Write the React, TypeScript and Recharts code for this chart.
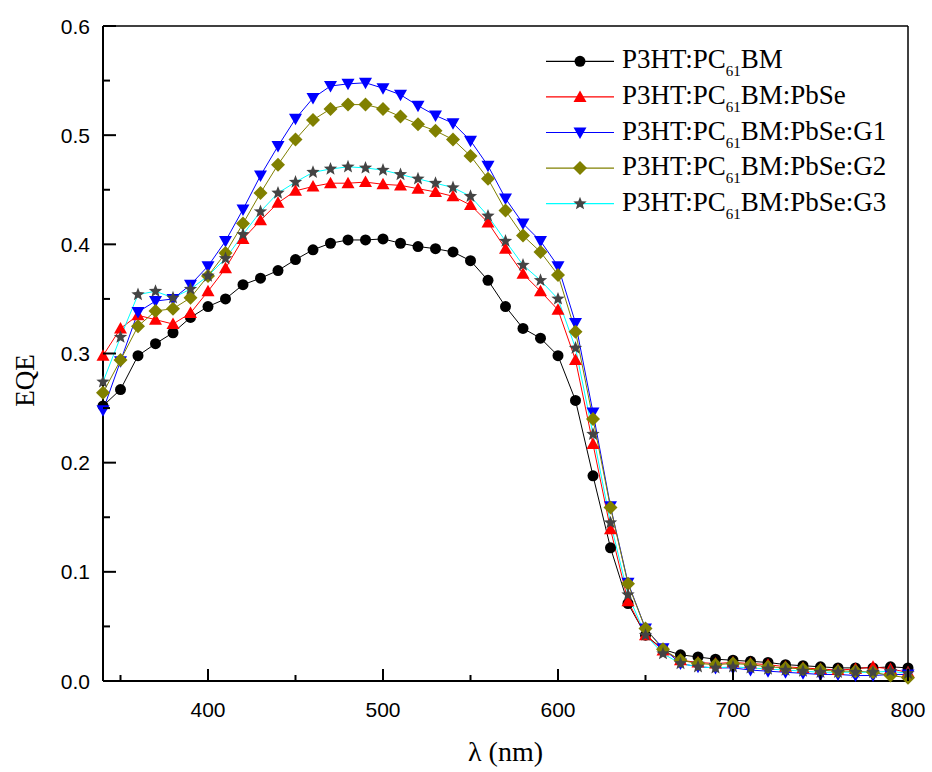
import React from "react";
import { LineChart, Line, XAxis, YAxis, Legend, ReferenceLine } from "recharts";

document.body.style.margin = "0";

const SERIF = "'Liberation Serif', 'Times New Roman', serif";
const SANS = "'Liberation Sans', Arial, sans-serif";

const wavelengths = [
  340, 350, 360, 370, 380, 390, 400, 410, 420, 430, 440, 450, 460, 470, 480, 490,
  500, 510, 520, 530, 540, 550, 560, 570, 580, 590, 600, 610, 620, 630, 640, 650,
  660, 670, 680, 690, 700, 710, 720, 730, 740, 750, 760, 770, 780, 790, 800,
];

const eqeBase = [
  0.252, 0.267, 0.298, 0.309, 0.319, 0.333, 0.343, 0.35, 0.363, 0.369, 0.376, 0.386, 0.395, 0.401, 0.404, 0.404,
  0.405, 0.401, 0.398, 0.396, 0.393, 0.385, 0.367, 0.343, 0.323, 0.314, 0.298, 0.257, 0.188, 0.122, 0.071, 0.042,
  0.029, 0.024, 0.022, 0.02, 0.019, 0.018, 0.017, 0.015, 0.014, 0.013, 0.012, 0.012, 0.012, 0.013, 0.012,
];
const eqePbSe = [
  0.298, 0.323, 0.335, 0.331, 0.327, 0.337, 0.357, 0.378, 0.405, 0.422, 0.438, 0.449, 0.453, 0.456, 0.456, 0.457,
  0.455, 0.454, 0.451, 0.448, 0.444, 0.436, 0.42, 0.396, 0.373, 0.357, 0.34, 0.294, 0.217, 0.139, 0.073, 0.042,
  0.028, 0.019, 0.017, 0.016, 0.017, 0.016, 0.015, 0.013, 0.012, 0.011, 0.01, 0.011, 0.013, 0.011, 0.008,
];
const eqeG1 = [
  0.248, 0.293, 0.338, 0.348, 0.35, 0.363, 0.38, 0.403, 0.432, 0.463, 0.49, 0.515, 0.534, 0.545, 0.547, 0.548,
  0.543, 0.537, 0.527, 0.518, 0.511, 0.495, 0.472, 0.442, 0.419, 0.403, 0.38, 0.328, 0.246, 0.16, 0.09, 0.048,
  0.03, 0.016, 0.013, 0.012, 0.012, 0.01, 0.009, 0.008, 0.007, 0.006, 0.006, 0.005, 0.005, 0.006, 0.006,
];
const eqeG2 = [
  0.264, 0.294, 0.325, 0.339, 0.341, 0.351, 0.371, 0.392, 0.419, 0.447, 0.473, 0.496, 0.514, 0.524, 0.528, 0.528,
  0.524, 0.517, 0.51, 0.504, 0.496, 0.481, 0.46, 0.431, 0.408, 0.393, 0.372, 0.32, 0.24, 0.159, 0.089, 0.048,
  0.029, 0.019, 0.016, 0.015, 0.016, 0.015, 0.013, 0.012, 0.011, 0.01, 0.009, 0.009, 0.008, 0.005, 0.003,
];
const eqeG3 = [
  0.274, 0.315, 0.354, 0.357, 0.351, 0.359, 0.371, 0.387, 0.409, 0.43, 0.447, 0.457, 0.466, 0.469, 0.471, 0.47,
  0.468, 0.464, 0.46, 0.456, 0.452, 0.444, 0.426, 0.403, 0.381, 0.367, 0.35, 0.305, 0.226, 0.145, 0.079, 0.042,
  0.025, 0.016, 0.013, 0.012, 0.013, 0.012, 0.011, 0.01, 0.009, 0.008, 0.008, 0.008, 0.008, 0.009, 0.007,
];

const xTicks = [350, 400, 450, 500, 550, 600, 650, 700, 750, 800];
const yTicks = [0, 0.05, 0.1, 0.15, 0.2, 0.25, 0.3, 0.35, 0.4, 0.45, 0.5, 0.55, 0.6];

const data = wavelengths.map((w, i) => ({
  w,
  base: eqeBase[i],
  pbse: eqePbSe[i],
  g1: eqeG1[i],
  g2: eqeG2[i],
  g3: eqeG3[i],
}));

type Shape = "circle" | "up" | "down" | "diamond" | "star";

const series: { key: string; name: string; suffix: string; line: string; fill: string; shape: Shape }[] = [
  { key: "base", name: "P3HT:PC", suffix: "BM", line: "#000000", fill: "#000000", shape: "circle" },
  { key: "pbse", name: "P3HT:PC", suffix: "BM:PbSe", line: "#ff0000", fill: "#ff0000", shape: "up" },
  { key: "g1", name: "P3HT:PC", suffix: "BM:PbSe:G1", line: "#0000ff", fill: "#0000ff", shape: "down" },
  { key: "g2", name: "P3HT:PC", suffix: "BM:PbSe:G2", line: "#808000", fill: "#808000", shape: "diamond" },
  { key: "g3", name: "P3HT:PC", suffix: "BM:PbSe:G3", line: "#00ffff", fill: "#444444", shape: "star" },
];

function Marker({ shape, cx, cy, fill }: { shape: Shape; cx: number; cy: number; fill: string }) {
  if (cx == null || cy == null) return null;
  if (shape === "circle") return <circle cx={cx} cy={cy} r={5.5} fill={fill} />;
  if (shape === "up")
    return <polygon points={`${cx},${cy - 6.5} ${cx + 6.5},${cy + 5} ${cx - 6.5},${cy + 5}`} fill={fill} />;
  if (shape === "down")
    return <polygon points={`${cx},${cy + 6.5} ${cx + 6.5},${cy - 5} ${cx - 6.5},${cy - 5}`} fill={fill} />;
  if (shape === "diamond")
    return <polygon points={`${cx},${cy - 7} ${cx + 7},${cy} ${cx},${cy + 7} ${cx - 7},${cy}`} fill={fill} />;
  const pts: string[] = [];
  for (let k = 0; k < 10; k++) {
    const r = k % 2 === 0 ? 7 : 3;
    const a = -Math.PI / 2 + (k * Math.PI) / 5;
    pts.push(`${cx + r * Math.cos(a)},${cy + r * Math.sin(a)}`);
  }
  return <polygon points={pts.join(" ")} fill={fill} />;
}

const XTick = ({ x, y, payload }: any) => {
  const v = payload.value;
  const major = v % 100 === 0;
  return (
    <g>
      <line x1={x} x2={x} y1={y} y2={y - (major ? 12 : 6)} stroke="#000" strokeWidth={2} />
      {major && (
        <text x={x} y={y + 36} textAnchor="middle" style={{ fontFamily: SANS, fontSize: 21 }} fill="#000">
          {v}
        </text>
      )}
    </g>
  );
};

const YTick = ({ x, y, payload }: any) => {
  const v = payload.value;
  const major = Math.round(v * 100) % 10 === 0;
  return (
    <g>
      <line x1={x} x2={x + (major ? 13 : 7)} y1={y} y2={y} stroke="#000" strokeWidth={2} />
      {major && (
        <text x={x - 13} y={y + 7.5} textAnchor="end" style={{ fontFamily: SANS, fontSize: 21 }} fill="#000">
          {v.toFixed(1)}
        </text>
      )}
    </g>
  );
};

const LegendBox = () => (
  <svg width={380} height={200} style={{ display: "block" }}>
    {series.map((s, i) => {
      const base = 24.3 + i * 35.6;
      const cy = base - 7;
      return (
        <g key={s.key}>
          <line x1={6} x2={74} y1={cy} y2={cy} stroke={s.line} strokeWidth={1.2} />
          <Marker shape={s.shape} cx={40} cy={cy} fill={s.fill} />
          <text x={82} y={base} style={{ fontFamily: SERIF, fontSize: 27 }} fill="#000">
            {s.name}
            <tspan style={{ fontSize: 15 }} dy={8}>61</tspan>
            <tspan dy={-8}>{s.suffix}</tspan>
          </text>
        </g>
      );
    })}
  </svg>
);

export default function App() {
  return (
    <div style={{ width: 932, height: 772, background: "#fff" }}>
      <LineChart width={932} height={772} data={data} margin={{ top: 26, right: 24, left: 0, bottom: 31 }}>
        <XAxis
          dataKey="w"
          type="number"
          domain={[340, 800]}
          ticks={xTicks}
          interval={0}
          tickSize={0}
          tickMargin={0}
          tickLine={false}
          height={60}
          axisLine={{ stroke: "#000", strokeWidth: 2 }}
          tick={<XTick />}
          label={{
            content: ({ viewBox }: any) => (
              <text
                x={viewBox.x + viewBox.width / 2}
                y={viewBox.y + 80}
                textAnchor="middle"
                style={{ fontFamily: SERIF, fontSize: 28 }}
                fill="#000"
              >
                λ (nm)
              </text>
            ),
          }}
        />
        <YAxis
          type="number"
          domain={[0, 0.6]}
          ticks={yTicks}
          interval={0}
          width={103}
          tickSize={0}
          tickMargin={0}
          tickLine={false}
          axisLine={{ stroke: "#000", strokeWidth: 2 }}
          tick={<YTick />}
          label={{
            content: ({ viewBox }: any) => {
              const cx = 25;
              const cy = viewBox.y + viewBox.height / 2 + 27;
              return (
                <text
                  x={cx}
                  y={cy}
                  transform={`rotate(-90 ${cx} ${cy})`}
                  textAnchor="middle"
                  dominantBaseline="central"
                  style={{ fontFamily: SERIF, fontSize: 27 }}
                  fill="#000"
                >
                  EQE
                </text>
              );
            },
          }}
        />
        <ReferenceLine y={0.6} stroke="#000" strokeWidth={1.5} />
        <ReferenceLine x={800} stroke="#000" strokeWidth={1.5} />
        {series.map((s) => (
          <Line
            key={s.key}
            dataKey={s.key}
            type="linear"
            stroke={s.line}
            strokeWidth={1}
            isAnimationActive={false}
            activeDot={false}
            dot={(p: any) => <Marker key={`${s.key}-${p.index}`} shape={s.shape} cx={p.cx} cy={p.cy} fill={s.fill} />}
          />
        ))}
        <Legend
          layout="vertical"
          align="center"
          verticalAlign="middle"
          content={<LegendBox />}
          wrapperStyle={{ left: 540, top: 44, width: 380, height: 200 }}
        />
      </LineChart>
    </div>
  );
}
